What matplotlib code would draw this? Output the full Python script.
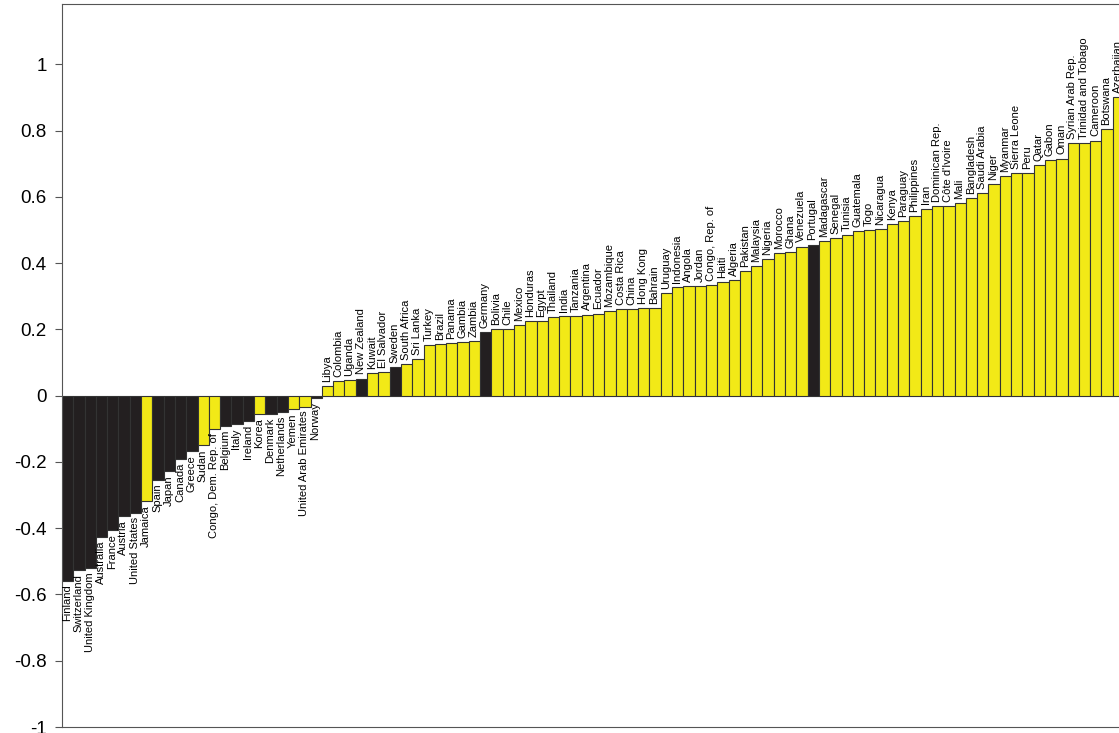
import matplotlib.pyplot as plt
import numpy as np

plt.rcParams['font.family'] = ['Liberation Sans', 'DejaVu Sans']

countries = [
    'Finland', 'Switzerland', 'United Kingdom', 'Australia', 'France', 'Austria',
    'United States', 'Jamaica', 'Spain', 'Japan', 'Canada', 'Greece', 'Sudan',
    'Congo, Dem. Rep. of', 'Belgium', 'Italy', 'Ireland', 'Korea', 'Denmark',
    'Netherlands', 'Yemen', 'United Arab Emirates', 'Norway',
    'Libya', 'Colombia', 'Uganda', 'New Zealand', 'Kuwait', 'El Salvador', 'Sweden',
    'South Africa', 'Sri Lanka', 'Turkey', 'Brazil', 'Panama', 'Gambia', 'Zambia',
    'Germany', 'Bolivia', 'Chile', 'Mexico', 'Honduras', 'Egypt', 'Thailand', 'India',
    'Tanzania', 'Argentina', 'Ecuador', 'Mozambique', 'Costa Rica', 'China',
    'Hong Kong', 'Bahrain', 'Uruguay', 'Indonesia', 'Angola', 'Jordan',
    'Congo, Rep. of', 'Haiti', 'Algeria', 'Pakistan', 'Malaysia', 'Nigeria',
    'Morocco', 'Ghana', 'Venezuela', 'Portugal', 'Madagascar', 'Senegal', 'Tunisia',
    'Guatemala', 'Togo', 'Nicaragua', 'Kenya', 'Paraguay', 'Philippines', 'Iran',
    'Dominican Rep.', "Côte d'Ivoire", 'Mali', 'Bangladesh', 'Saudi Arabia', 'Niger',
    'Myanmar', 'Sierra Leone', 'Peru', 'Qatar', 'Gabon', 'Oman', 'Syrian Arab Rep.',
    'Trinidad and Tobago', 'Cameroon', 'Botswana', 'Azerbaijan',
]

values = [
    -0.558, -0.525, -0.52, -0.425, -0.405, -0.364, -0.353, -0.319, -0.253, -0.228,
    -0.19, -0.168, -0.15, -0.10, -0.09, -0.085, -0.075, -0.056, -0.054, -0.048,
    -0.04, -0.033, -0.006,
    0.028, 0.043, 0.047, 0.052, 0.068, 0.071, 0.087, 0.095, 0.111, 0.153, 0.156,
    0.159, 0.161, 0.165, 0.192, 0.20, 0.20, 0.212, 0.225, 0.226, 0.238, 0.241,
    0.241, 0.245, 0.248, 0.256, 0.262, 0.262, 0.264, 0.264, 0.309, 0.329, 0.33,
    0.332, 0.335, 0.343, 0.348, 0.376, 0.391, 0.413, 0.431, 0.433, 0.45, 0.456,
    0.468, 0.477, 0.486, 0.496, 0.50, 0.504, 0.517, 0.528, 0.542, 0.565, 0.573,
    0.573, 0.582, 0.597, 0.611, 0.64, 0.664, 0.672, 0.673, 0.696, 0.711, 0.716,
    0.763, 0.763, 0.77, 0.805, 0.902,
]

oecd = ['Finland', 'Switzerland', 'United Kingdom', 'Australia', 'France', 'Austria',
        'United States', 'Spain', 'Japan', 'Canada', 'Greece', 'Belgium', 'Italy',
        'Ireland', 'Denmark', 'Netherlands', 'Norway', 'New Zealand', 'Sweden',
        'Germany', 'Portugal']

yticks = [-1, -0.8, -0.6, -0.4, -0.2, 0, 0.2, 0.4, 0.6, 0.8, 1]
ytick_labels = ['-1', '-0.8', '-0.6', '-0.4', '-0.2', '0', '0.2', '0.4', '0.6', '0.8', '1']

colors = ['#231f20' if c in oecd else '#f2e917' for c in countries]
x = np.arange(len(countries))

fig = plt.figure(figsize=(11.19, 7.33), dpi=100)
ax = fig.add_axes([62/1119, 6/733, 1062/1119, 723.5/733])

ax.bar(x, values, width=1.0, color=colors, edgecolor='#333333', linewidth=0.8)

for i, (c, v) in enumerate(zip(countries, values)):
    if v >= 0:
        ax.annotate(c, (i, v), xytext=(-0.5, 3), textcoords='offset points',
                    rotation=90, ha='center', va='bottom', fontsize=8)
    else:
        ax.annotate(c, (i, v), xytext=(-0.5, -3), textcoords='offset points',
                    rotation=90, ha='center', va='top', fontsize=8)

ax.set_xlim(-0.5, len(countries) - 0.5)
ax.set_ylim(-1, 1.184)
ax.set_yticks(yticks)
ax.set_yticklabels(ytick_labels, fontsize=13.5)
ax.set_xticks([])
ax.tick_params(axis='y', length=5, width=0.8, color='#555555', pad=6)
for s in ['left', 'top', 'bottom']:
    ax.spines[s].set_color('#555555')
    ax.spines[s].set_linewidth(0.8)
ax.spines['right'].set_visible(False)

fig.savefig('out.png', dpi=100)
